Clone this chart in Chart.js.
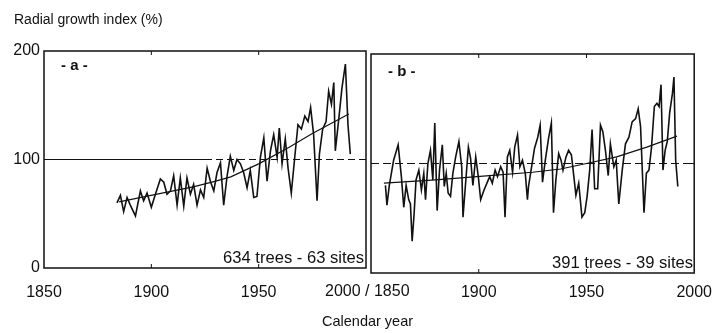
<!DOCTYPE html>
<html>
<head>
<meta charset="utf-8">
<script src="https://cdn.jsdelivr.net/npm/chart.js@4.4.0/dist/chart.umd.min.js"></script>
<style>
  body { margin: 0; background: #fff; overflow: hidden; }
  #wrap { position: relative; width: 717px; height: 333px; overflow: hidden; font-family: "Liberation Sans", Arial, sans-serif; color: #111; }
  canvas { position: absolute; top: 0; }
  .t { position: absolute; white-space: nowrap; line-height: 1; }
</style>
</head>
<body>
<div id="wrap">
  <canvas id="chartA" width="370" height="333" style="left:0"></canvas>
  <canvas id="chartB" width="362" height="333" style="left:360px"></canvas>
  <div class="t" style="left:14px; top:12px; font-size:14px;">Radial growth index (%)</div>
  <div class="t" style="left:322px; top:314px; font-size:14.5px;">Calendar year</div>
  <div class="t" style="left:325px; top:283px; font-size:16px;">2000 / 1850</div>
  <div class="t" style="left:61px; top:57px; font-size:15px; font-weight:bold;">- a -</div>
  <div class="t" style="left:388px; top:63px; font-size:15px; font-weight:bold;">- b -</div>
  <div class="t" style="left:223px; top:250px; font-size:16.6px;">634 trees - 63 sites</div>
  <div class="t" style="left:552px; top:255px; font-size:16.6px;">391 trees - 39 sites</div>
</div>
<script>
// panel a : 634 trees - 63 sites
const yearsA = [1884.0, 1885.6, 1887.1, 1888.7, 1890.2, 1892.6, 1894.9, 1896.4, 1898.0, 1900.0,
  1901.9, 1904.2, 1905.8, 1907.3, 1908.9, 1910.4, 1912.0, 1913.5, 1915.1, 1916.6,
  1918.2, 1919.7, 1921.3, 1922.9, 1924.4, 1926.0, 1927.5, 1929.1, 1930.6, 1932.2,
  1933.7, 1935.3, 1936.8, 1938.4, 1939.9, 1941.5, 1943.0, 1944.6, 1946.1, 1947.7,
  1949.2, 1950.8, 1952.4, 1953.9, 1955.5, 1957.0, 1958.6, 1959.6, 1960.9, 1962.4,
  1963.7, 1965.2, 1966.8, 1968.3, 1969.9, 1971.5, 1973.0, 1974.2, 1975.6, 1977.2,
  1978.3, 1979.8, 1981.4, 1982.6, 1983.9, 1985.0, 1985.7, 1987.3, 1988.8, 1990.4,
  1991.6, 1992.7];
const indexA = [60, 67, 52, 65, 58, 48, 71, 62, 69, 56,
  68, 82, 79, 68, 71, 85, 58, 83, 57, 83,
  68, 77, 58, 72, 65, 92, 80, 71, 88, 97,
  58, 85, 103, 90, 100, 96, 88, 74, 90, 65,
  66, 102, 120, 80, 108, 123, 102, 129, 96, 119,
  92, 69, 102, 132, 128, 140, 135, 148, 123, 62,
  105, 128, 135, 163, 151, 171, 108, 137, 166, 188,
  132, 105];
const trendYearsA = [1885, 1905, 1920, 1930, 1937, 1950, 1964, 1975, 1992];
const trendA = [61, 69, 75, 80, 84, 96, 111, 124, 142];

// panel b : 391 trees - 39 sites
const yearsB = [1856.7, 1857.4, 1858.5, 1860.5, 1862.6, 1864.1, 1865.2, 1866.3, 1867.5, 1868.3,
  1869.1, 1870.0, 1870.9, 1872.2, 1873.4, 1874.5, 1875.3, 1876.4, 1877.6, 1878.7,
  1879.6, 1880.7, 1881.8, 1883.1, 1884.0, 1884.9, 1885.8, 1886.9, 1888.0, 1889.3,
  1890.8, 1892.1, 1892.7, 1893.9, 1895.2, 1896.2, 1897.3, 1898.6, 1899.8, 1900.9,
  1902.5, 1904.0, 1905.1, 1906.3, 1907.6, 1908.7, 1910.2, 1911.3, 1912.2, 1913.3,
  1914.4, 1915.7, 1916.7, 1918.0, 1919.1, 1920.3, 1921.6, 1922.6,
  1923.1, 1924.3, 1925.9, 1927.4, 1928.5, 1929.6, 1930.9, 1932.4, 1933.7, 1934.7,
  1935.8, 1937.1, 1938.2, 1939.1, 1940.5, 1941.7, 1943.0, 1944.1, 1945.1, 1946.4,
  1947.9, 1949.2, 1950.3, 1951.5, 1952.6, 1953.8, 1955.2, 1956.5, 1957.6, 1958.8,
  1960.1, 1961.1, 1962.7, 1963.8, 1965.0, 1966.6, 1968.1, 1969.7, 1971.2, 1972.8,
  1974.0, 1975.1, 1976.7, 1977.8, 1979.0, 1980.2, 1981.5, 1982.7, 1983.7, 1984.6,
  1985.5, 1986.5, 1987.5, 1988.6, 1989.9, 1990.6, 1991.4, 1992.4];
const indexB = [80, 62, 80, 103, 117, 88, 60, 80, 67, 63,
  29, 54, 85, 94, 76, 91, 67, 100, 112, 85,
  137, 57, 94, 117, 79, 91, 73, 70, 91, 106,
  120, 97, 51, 82, 115, 105, 80, 106, 88, 67,
  76, 83, 88, 82, 94, 88, 97, 92, 51, 106,
  112, 92, 115, 126, 97, 103, 91, 67,
  79, 94, 114, 124, 135, 83, 103, 123, 137, 55,
  85, 109, 103, 94, 106, 112, 108, 89, 71, 82,
  51, 55, 70, 94, 131, 77, 77, 135, 129, 112,
  89, 118, 97, 103, 63, 94, 118, 124, 138, 141,
  150, 134, 55, 91, 94, 115, 152, 155, 152, 172,
  94, 112, 120, 146, 164, 179, 103, 79];
const trendYearsB = [1856, 1880, 1905, 1925, 1938, 1950, 1964, 1978, 1992];
const trendB = [82, 85, 89, 92, 95, 100, 106, 115, 125];

const refLevel = 100;
// 2000 of panel a and 1850 of panel b share one label "2000 / 1850"
const xTicksA = [1850, 1900, 1950];
const xTicksB = [1900, 1950, 2000];
const innerTicks = [1900, 1950];
const yTicks = [0, 100, 200];

const ink = "#111";
Chart.defaults.font.family = '"Liberation Sans", Arial, sans-serif';
Chart.defaults.font.size = 16;
Chart.defaults.color = ink;

const pts = (xs, ys) => xs.map((x, i) => ({ x: x, y: ys[i] }));

//box round the plot area and small inward ticks
const frame = {
  id: "frame",
  afterDraw(chart) {
    const { ctx, chartArea: a, scales } = chart;
    ctx.save();
    ctx.strokeStyle = ink;
    ctx.lineWidth = 1.5;
    ctx.strokeRect(a.left, a.top, a.right - a.left, a.bottom - a.top);
    ctx.lineWidth = 1;
    ctx.beginPath();
    innerTicks.forEach((v) => {
      const px = scales.x.getPixelForValue(v);
      ctx.moveTo(px, a.bottom); ctx.lineTo(px, a.bottom - 4);
      ctx.moveTo(px, a.top); ctx.lineTo(px, a.top + 4);
    });
    const py = scales.y.getPixelForValue(refLevel);
    ctx.moveTo(a.left, py); ctx.lineTo(a.left + 4, py);
    ctx.moveTo(a.right, py); ctx.lineTo(a.right - 4, py);
    ctx.stroke();
    ctx.restore();
  },
};

function makePanel(id, years, values, tYears, trend, refParts, opts) {
  const datasets = [
    { data: pts(years, values), borderColor: ink, borderWidth: 1.6 },
    { data: pts(tYears, trend), borderColor: ink, borderWidth: 1.2 },
  ];
  refParts.forEach((p) => {
    datasets.push({
      data: pts(p.span, [refLevel, refLevel]),
      borderColor: ink,
      borderWidth: 1,
      borderDash: p.dash,
    });
  });
  return new Chart(document.getElementById(id), {
    type: "line",
    data: { datasets: datasets },
    plugins: [frame],
    options: {
      responsive: false,
      animation: false,
      layout: { padding: opts.padding },
      elements: { point: { radius: 0 }, line: { tension: 0 } },
      plugins: { legend: { display: false }, tooltip: { enabled: false } },
      scales: {
        x: {
          type: "linear",
          min: 1850,
          max: 2000,
          grid: { display: false, drawTicks: false },
          border: { display: false },
          afterBuildTicks: (s) => { s.ticks = opts.xTicks.map((v) => ({ value: v })); },
          ticks: { padding: opts.xPad, maxRotation: 0, callback: (v) => String(v) },
          afterFit: (s) => { s.height = opts.xHeight; },
        },
        y: {
          display: opts.showY,
          min: 0,
          max: 200,
          grid: { display: false, drawTicks: false },
          border: { display: false },
          afterBuildTicks: (s) => { s.ticks = yTicks.map((v) => ({ value: v })); },
          ticks: { padding: 4, callback: (v) => String(v) },
          afterFit: (s) => { s.width = opts.yWidth; },
        },
      },
    },
  });
}

makePanel("chartA", yearsA, indexA, trendYearsA, trendA,
  [{ span: [1850, 1925], dash: [] }, { span: [1925, 2000], dash: [7, 4] }],
  { padding: { top: 51, right: 4, left: 0, bottom: 0 }, xPad: 15, xHeight: 65, showY: true, yWidth: 44, xTicks: xTicksA });

makePanel("chartB", yearsB, indexB, trendYearsB, trendB,
  [{ span: [1850, 2000], dash: [8, 4] }],
  { padding: { top: 54, right: 20, left: 11, bottom: 0 }, xPad: 10, xHeight: 60, showY: false, yWidth: 0, xTicks: xTicksB });
</script>
</body>
</html>
